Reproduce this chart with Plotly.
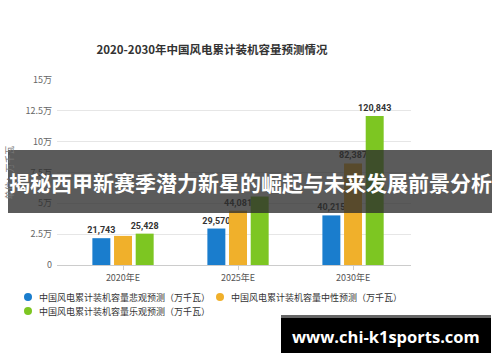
import plotly.graph_objects as go

categories = ["2020年E", "2025年E", "2030年E"]
series_names = [
    "中国风电累计装机容量悲观预测（万千瓦）",
    "中国风电累计装机容量中性预测（万千瓦）",
    "中国风电累计装机容量乐观预测（万千瓦）",
]
pessimistic = [21743, 29570, 40215]
neutral = [23600, 44081, 82387]
optimistic = [25428, 55500, 120843]
# which value labels are visible in the reference
show_pess = [True, True, True]
show_neut = [False, True, True]
show_opt = [True, False, True]
colors = ["#1a7dcd", "#f0b02b", "#7dc622"]
tick_vals = [0, 25000, 50000, 75000, 100000, 125000, 150000]
tick_text = ["0", "2.5万", "5万", "7.5万", "10万", "12.5万", "15万"]
title_text = "2020-2030年中国风电累计装机容量预测情况"
y_title = "单位：万千瓦"
banner_text = "揭秘西甲新赛季潜力新星的崛起与未来发展前景分析"
url_text = "www.chi-k1sports.com"

W, H = 500, 362
L, R, T, B = 57, 411, 80, 265  # plot area in pixels


def px(x):
    return (x - L) / (R - L)


def py(y):
    return (B - y) / (B - T)


fig = go.Figure()
for vals, show, name, col in zip(
    [pessimistic, neutral, optimistic],
    [show_pess, show_neut, show_opt],
    series_names,
    colors,
):
    fig.add_trace(
        go.Bar(
            x=categories,
            y=vals,
            name=name,
            marker=dict(color=col, line=dict(width=0)),
            text=[f"{v:,}" if s else "" for v, s in zip(vals, show)],
            textposition="outside",
            textfont=dict(size=9, color="#333333", family="Roboto, Noto Sans CJK SC", weight="bold"),
            constraintext="none",
            cliponaxis=False,
            showlegend=False,
        )
    )

fig.update_layout(
    width=W,
    height=H,
    margin=dict(l=L, r=W - R, t=T, b=H - B, pad=0),
    paper_bgcolor="white",
    plot_bgcolor="white",
    barmode="group",
    bargap=0.435,
    bargroupgap=0.17,
    font=dict(family="Noto Sans CJK SC, Noto Sans", color="#555555", size=9),
    title=dict(
        text=title_text,
        x=px(212),
        xref="paper",
        xanchor="center",
        y=1 - 50 / H,
        yanchor="middle",
        font=dict(size=11.5, color="#333333", weight="bold", family="Noto Sans CJK SC"),
    ),
    showlegend=False,
)
fig.update_xaxes(
    range=[-0.574, 2.504],
    showgrid=False,
    showline=True,
    linecolor="#cccccc",
    linewidth=1,
    ticks="outside",
    ticklen=4,
    tickcolor="#cccccc",
    tickfont=dict(size=9, color="#555555"),
    fixedrange=True,
)
fig.update_yaxes(
    range=[0, 150000],
    tickvals=tick_vals,
    ticktext=tick_text,
    showgrid=True,
    gridcolor="#e6e6e6",
    gridwidth=1,
    zeroline=False,
    showline=False,
    ticks="",
    ticklabelstandoff=4,
    automargin=False,
    tickfont=dict(size=9, color="#666666"),
    title=dict(text=y_title, font=dict(size=9, color="#777777"), standoff=10),
)

shapes = []
annotations = []

# manual legend
legend_pos = [(28, 297), (220, 297), (28, 311)]
for (lx, ly), name, col in zip(legend_pos, series_names, colors):
    r = 4
    shapes.append(
        dict(type="circle", xref="paper", yref="paper",
             x0=px(lx - r), x1=px(lx + r), y0=py(ly + r), y1=py(ly - r),
             fillcolor=col, line=dict(width=0))
    )
    annotations.append(
        dict(text=name, xref="paper", yref="paper", x=px(lx + 9), y=py(ly),
             xanchor="left", yanchor="middle", showarrow=False,
             font=dict(size=9, color="#333333"))
    )

# overlay banner
shapes.append(
    dict(type="rect", xref="paper", yref="paper",
         x0=px(8), x1=px(492), y0=py(213), y1=py(150),
         fillcolor="rgba(45,45,45,0.78)", line=dict(width=0), layer="above")
)
annotations.append(
    dict(text=banner_text, xref="paper", yref="paper", x=px(250), y=py(182),
         xanchor="center", yanchor="middle", showarrow=False,
         font=dict(size=21, color="white", family="Noto Sans CJK SC", weight="bold"))
)
# url box
shapes.append(
    dict(type="rect", xref="paper", yref="paper",
         x0=px(281), x1=px(491), y0=py(353), y1=py(318),
         fillcolor="black", line=dict(width=0), layer="above")
)
shapes.append(
    dict(type="rect", xref="paper", yref="paper",
         x0=px(281), x1=px(491), y0=py(318), y1=py(315),
         fillcolor="#666666", line=dict(width=0), layer="above")
)
annotations.append(
    dict(text=url_text, xref="paper", yref="paper", x=px(386), y=py(336),
         xanchor="center", yanchor="middle", showarrow=False,
         font=dict(size=16.5, color="white", family="Open Sans", weight="bold"))
)

fig.update_layout(shapes=shapes, annotations=annotations)
fig.write_html("out.html")
